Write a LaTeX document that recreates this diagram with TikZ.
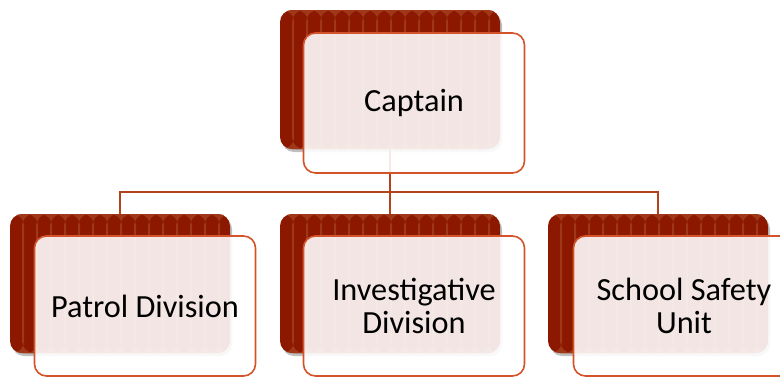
\documentclass[tikz,border=0pt]{standalone}
\usepackage{fontspec}
\setmainfont{Carlito}
\usetikzlibrary{shadows}
\definecolor{bkred}{HTML}{8C1800}
\definecolor{stripecol}{HTML}{9F3818}
\definecolor{edgeor}{HTML}{D5532A}
\definecolor{linecol}{HTML}{B2421C}
\begin{document}
\begin{tikzpicture}[x=1pt,y=-1pt,
  backbox/.style={rectangle, rounded corners=12pt, fill=bkred, inner sep=0pt,
    minimum width=220pt, minimum height=139pt,
    drop shadow={shadow xshift=2pt, shadow yshift=-3pt, opacity=0.25, fill=black},
    path picture={
      \foreach \i in {0,...,15}
        \fill[stripecol] ([xshift=12pt+\i*14pt]path picture bounding box.south west) rectangle ++(2.2pt,139pt);
    }},
  frontbox/.style={rectangle, rounded corners=12pt, draw=edgeor, line width=1.6pt,
    fill=white, fill opacity=0.89, text opacity=1, inner sep=0pt,
    minimum width=221pt, minimum height=140pt, align=center,
    font=\fontsize{32.3}{33.5}\selectfont},
  conn/.style={draw=linecol, line width=1.8pt}
]
\useasboundingbox (0,0) rectangle (780,381);
\clip (0,0) rectangle (780,381);
% back boxes
\node[backbox] (capB) at (390,79.5) {};
\node[backbox] (patB) at (120,283.5) {};
\node[backbox] (invB) at (390,283.5) {};
\node[backbox] (schB) at (658,283.5) {};
% connectors
\coordinate (bus) at (390,192);
\draw[conn] (capB.south) -- (bus);
\draw[conn] (patB.north) |- (bus) -| (schB.north);
\draw[conn] (bus) -- (invB.north);
% front boxes
\node[frontbox] (capF) at (414,103) {Captain};
\node[frontbox] (patF) at (145,306) {Patrol Division};
\node[frontbox] (invF) at (414,306) {Investigative\\Division};
\node[frontbox] (schF) at (684,306) {School Safety\\Unit};
\end{tikzpicture}
\end{document}
